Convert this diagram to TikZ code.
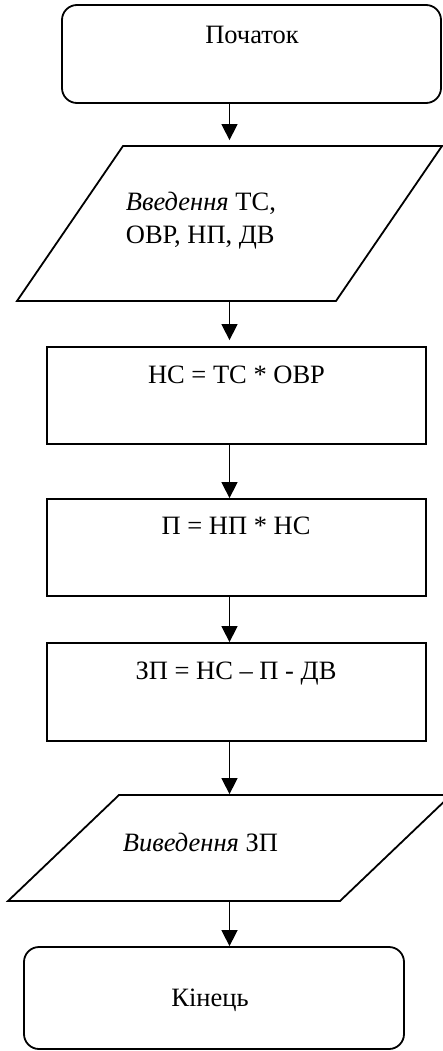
\documentclass[tikz,border=0pt]{standalone}
\usepackage{fontspec}
\setmainfont{Liberation Serif}
\usetikzlibrary{arrows.meta}

\begin{document}
\begin{tikzpicture}[x=1pt, y=-1pt, line width=1.8pt,
	term/.style={draw, rounded corners=15pt, minimum width=379pt, minimum height=98pt},
	proc/.style={draw, minimum width=379pt, minimum height=97pt},
	io/.style={draw, inner sep=0pt},
	txt/.style={inner sep=0pt, font=\fontsize{26.5}{32}\selectfont},
	arr/.style={-{Triangle[width=16pt,length=16pt]}, line width=1.5pt}]
\useasboundingbox (0,0) rectangle (443,1051);
\node[term] (start) at (251.5,54) {};
\node[io, xslant=0.684, minimum width=319pt, minimum height=155pt] (inp) at (229.5,223.5) {};
\node[proc] (hc) at (236.5,395.5) {};
\node[proc] (pd) at (236.5,547.5) {};
\node[proc, minimum height=98pt] (zp) at (236.5,692) {};
\node[io, xslant=1.047, minimum width=332pt, minimum height=106pt] (out) at (229.5,848) {};
\node[term, minimum width=380pt, minimum height=102pt] (fin) at (214,998) {};
\node[txt, anchor=base] (tstart) at (252,44) {Початок};
\node[txt, anchor=base west] (tin1) at (125,211) {\textit{Введення} ТС,};
\node[txt, anchor=base west] (tin2) at (125,243) {ОВР, НП, ДВ};
\node[txt, anchor=base] (thc) at (236.5,383) {НС = ТС * ОВР};
\node[txt, anchor=base] (tpd) at (236,534) {П = НП * НС};
\node[txt, anchor=base] (tzp) at (236,679) {ЗП = НС – П - ДВ};
\node[txt, anchor=base west] (tout) at (122,851) {\textit{Виведення} ЗП};
\node[txt, anchor=base] (tfin) at (210,1006) {Кінець};
\draw[arr, shorten >=5pt] (start.south -| inp.center) -- (inp.north -| inp.center);
\draw[arr, shorten >=6pt] (inp.south -| inp.center) -- (hc.north -| inp.center);
\foreach \a/\b in {hc/pd, pd/zp}{
	\draw[arr] (\a.south -| inp.center) -- (\b.north -| inp.center);
}
\draw[arr] (zp.south -| inp.center) -- (out.north -| out.center);
\draw[arr] (out.south -| out.center) -- (fin.north -| out.center);
\end{tikzpicture}
\end{document}
